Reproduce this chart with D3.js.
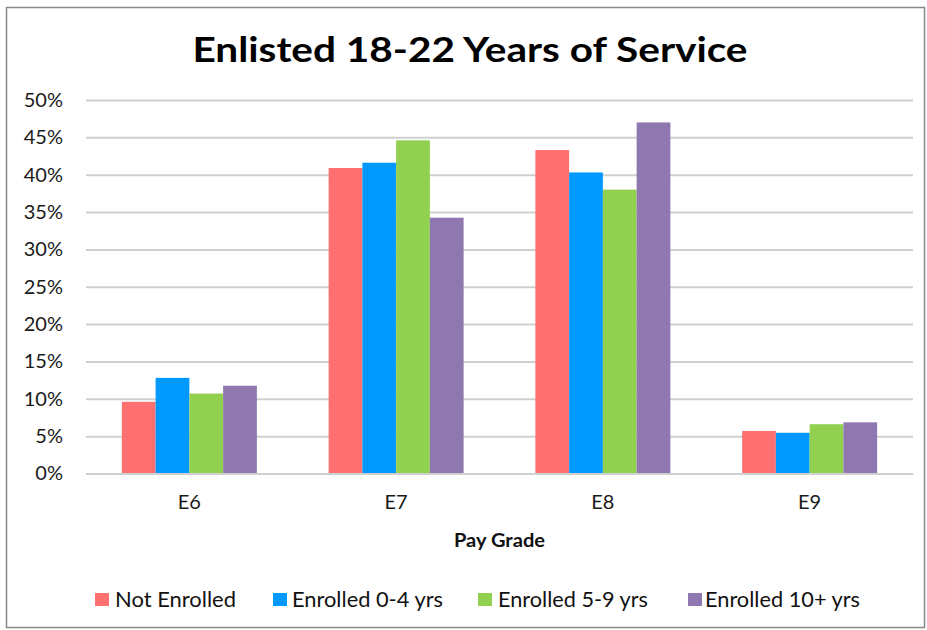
<!DOCTYPE html>
<html><head><meta charset="utf-8">
<script src="https://cdn.jsdelivr.net/npm/d3@7"></script>
<style>body{margin:0;background:#fff;} svg{display:block;font-family:Lato,"Open Sans",sans-serif;}</style>
</head><body>
<svg id="chart" width="927" height="630"></svg>
<script>
const categories = ["E6", "E7", "E8", "E9"];
const seriesNames = ["Not Enrolled", "Enrolled 0-4 yrs", "Enrolled 5-9 yrs", "Enrolled 10+ yrs"];
const notEnrolled = [9.6, 40.9, 43.3, 5.7];
const enrolled04 = [12.8, 41.6, 40.3, 5.45];
const enrolled59 = [10.7, 44.6, 38.0, 6.6];
const enrolled10 = [11.75, 34.25, 47.0, 6.85];
const yTicks = [0, 5, 10, 15, 20, 25, 30, 35, 40, 45, 50];
const colors = ["#FF7171", "#0099FF", "#92D050", "#8F78B0"];
const seriesValues = [notEnrolled, enrolled04, enrolled59, enrolled10];

(function () {
const svg = d3.select("#chart");
// outer border
svg.append("rect").attr("x", 6.5).attr("y", 7.5).attr("width", 918).attr("height", 620)
  .attr("fill", "#fff").attr("stroke", "#888").attr("stroke-width", 1.5);

const mLeft = 86, mRight = 913, mTop = 100, mBottom = 473.5;
const x0 = d3.scaleBand().domain(categories).range([mLeft, mRight]).paddingInner(0.347).paddingOuter(0.1735);
const x1 = d3.scaleBand().domain(seriesNames).range([0, x0.bandwidth()]);
const y = d3.scaleLinear().domain([0, 50]).range([mBottom, mTop]);

// title
svg.append("text").attr("x", 470).attr("y", 62).attr("text-anchor", "middle")
  .attr("font-size", 35).attr("font-weight", "bold").attr("fill", "#000")
  .attr("textLength", 555).attr("lengthAdjust", "spacingAndGlyphs")
  .text("Enlisted 18-22 Years of Service");

// grid
const yAxis = d3.axisLeft(y).tickValues(yTicks).tickSize(-(mRight - mLeft)).tickFormat(d => d + "%").tickPadding(23);
const gy = svg.append("g").attr("transform", `translate(${mLeft},0)`).call(yAxis);
gy.select(".domain").remove();
gy.selectAll(".tick line").attr("stroke", "#d0d0d0").attr("stroke-width", 2);
gy.selectAll(".tick text").attr("font-size", 20).attr("fill", "#1a1a1a").attr("font-family", "Lato");

// bars
const groups = svg.append("g").selectAll("g").data(categories).join("g")
  .attr("transform", d => `translate(${x0(d)},0)`);
groups.selectAll("rect").data((c, i) => seriesNames.map((s, j) => ({s, v: seriesValues[j][i], j})))
  .join("rect")
  .attr("x", d => x1(d.s)).attr("width", x1.bandwidth())
  .attr("y", d => y(d.v)).attr("height", d => y(0) - y(d.v))
  .attr("fill", d => colors[d.j]);

// x axis
const xAxis = d3.axisBottom(x0).tickSize(0).tickPadding(21);
const gx = svg.append("g").attr("transform", `translate(0,${mBottom})`).call(xAxis);
gx.select(".domain").attr("stroke", "#d0d0d0").attr("stroke-width", 2);
gx.selectAll(".tick text").attr("font-size", 20).attr("fill", "#1a1a1a").attr("font-family", "Lato");

svg.append("text").attr("x", (mLeft + mRight) / 2).attr("y", 547).attr("text-anchor", "middle")
  .attr("font-size", 19).attr("font-weight", "bold").attr("fill", "#111")
  .attr("textLength", 91).attr("lengthAdjust", "spacingAndGlyphs").text("Pay Grade");

// legend
const legendX = [95, 273, 478, 688];
const legendTextX = [115, 292, 498, 705];
const legendW = [121, 151, 150, 155];
const lg = svg.append("g").selectAll("g").data(seriesNames).join("g");
lg.append("rect").attr("x", (d, i) => legendX[i]).attr("y", 593).attr("width", 14).attr("height", 13).attr("fill", (d, i) => colors[i]);
lg.append("text").attr("x", (d, i) => legendTextX[i]).attr("y", 607).attr("font-size", 21).attr("fill", "#111")
  .attr("textLength", (d, i) => legendW[i]).attr("lengthAdjust", "spacingAndGlyphs").text(d => d);
})();
</script>
</body></html>
